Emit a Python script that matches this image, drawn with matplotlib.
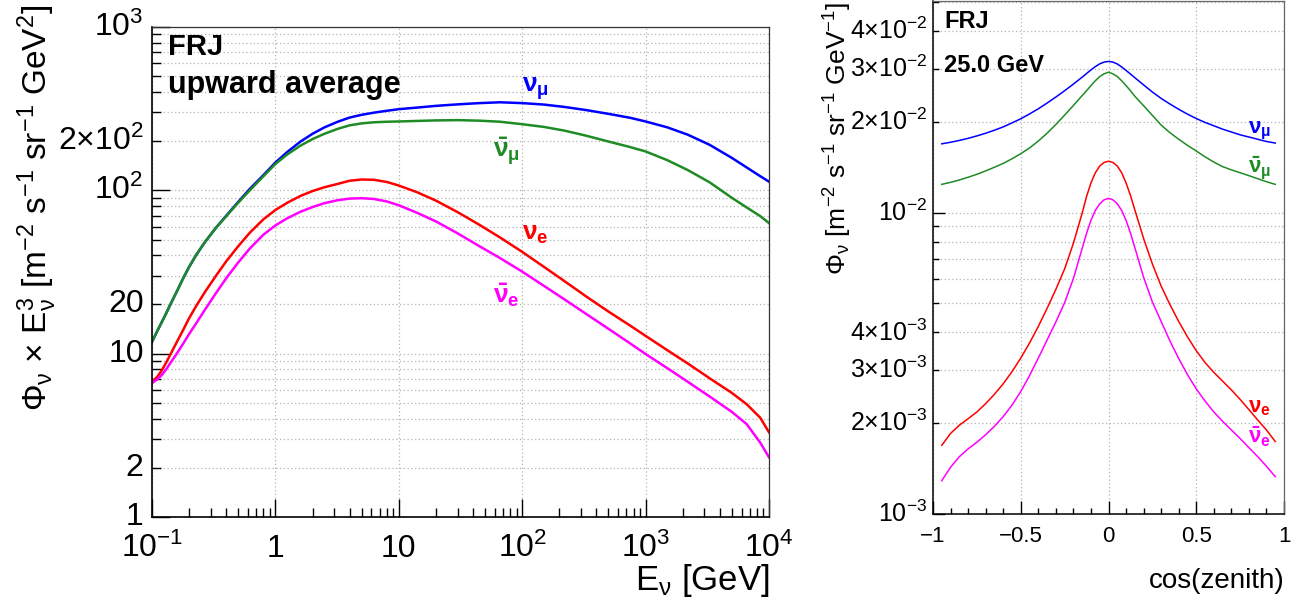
import numpy as np
import matplotlib
matplotlib.use('Agg')
import matplotlib.pyplot as plt

plt.rcParams['font.family'] = ['Liberation Sans', 'DejaVu Sans']
plt.rcParams['mathtext.fontset'] = 'custom'
plt.rcParams['mathtext.rm'] = 'Liberation Sans'
plt.rcParams['mathtext.it'] = 'Liberation Sans'
plt.rcParams['mathtext.bf'] = 'Liberation Sans:bold'

# left panel: upward-averaged flux x E^3 vs energy [GeV]
energy = [0.1, 0.11, 0.12, 0.13, 0.14, 0.16, 0.18, 0.2, 0.23, 0.27, 0.33, 0.4, 0.5, 0.62, 0.8,
          1, 1.25, 1.6, 2, 2.5, 3.2, 4, 5, 6.3, 8, 10, 14, 20, 30, 45, 66, 100, 150, 220, 330,
          500, 750, 1000, 1500, 2200, 3300, 5000, 6600, 8500, 10000]
numu_e = [11.8, 13.7, 15.6, 17.6, 19.8, 24.3, 29.2, 34, 40.6, 48.5, 59, 70, 85, 102, 124,
          148, 172, 199, 222, 243, 263, 279, 290, 299, 307, 314, 321, 329, 336, 342, 346, 342, 335, 324, 310,
          294, 278, 264, 243, 219, 190, 158, 138, 122, 113]
numubar_e = [11.8, 13.7, 15.6, 17.6, 19.8, 24.3, 29.2, 34, 40.6, 48.5, 59, 69.5, 84, 100, 122,
             145, 166, 188, 206, 222, 238, 250, 257, 261, 263, 264, 266, 268, 269, 267, 263, 254, 244.5, 232, 216,
             199, 184, 173, 153, 133, 112, 90, 78.5, 69.5, 63]
nue_e = [6.7, 7.2, 7.9, 8.8, 9.8, 11.9, 14.1, 16.5, 19.8, 24, 30, 36.8, 45.5, 55, 66.5,
         75.8, 84, 92.5, 99, 104.5, 109.5, 114.5, 116.5, 116, 112.5, 107, 97.5, 86.5, 73.5, 61.5, 51.5, 42, 34,
         27.8, 22.4, 18.1, 14.85, 12.85, 10.5, 8.7, 7.07, 5.75, 4.9, 4.05, 3.3]
nuebar_e = [6.6, 6.95, 7.4, 8.0, 8.7, 10.1, 11.6, 13.2, 15.5, 18.7, 23.5, 29, 36.2, 44, 53.5,
            61, 67.5, 74, 79, 83.5, 87, 89, 89.5, 88.5, 85.5, 81, 73, 64.5, 54.5, 45.5, 38.5, 31.8, 26, 21.5,
            17.5, 14.2, 11.55, 9.95, 8.15, 6.72, 5.47, 4.4, 3.7, 2.85, 2.32]

# right panel: flux vs cos(zenith) at 25 GeV
cosz = [-0.95, -0.9, -0.85, -0.8, -0.75, -0.7, -0.65, -0.6, -0.55, -0.5, -0.45, -0.4, -0.35, -0.3,
        -0.25, -0.2, -0.15, -0.125, -0.1, -0.075, -0.05, -0.025, 0, 0.025, 0.05, 0.075, 0.1, 0.125,
        0.15, 0.2, 0.25, 0.3, 0.35, 0.4, 0.45, 0.5, 0.55, 0.6, 0.65, 0.7, 0.75, 0.8, 0.85, 0.9, 0.95]
numu_z = [0.0169, 0.0171, 0.01734, 0.01762, 0.01795, 0.01832, 0.01875, 0.01923, 0.01982, 0.02046, 0.02123,
          0.02208, 0.02307, 0.02415, 0.02535, 0.02667, 0.02812, 0.02891, 0.02972, 0.03048, 0.03112, 0.03155,
          0.0317, 0.03155, 0.0311, 0.0304, 0.0296, 0.0288, 0.0280, 0.0265, 0.0251, 0.0239, 0.0229, 0.0220,
          0.0212, 0.0205, 0.0199, 0.0194, 0.0189, 0.0185, 0.0181, 0.0178, 0.0175, 0.0172, 0.0170]
numubar_z = [0.0124, 0.01259, 0.01282, 0.01309, 0.01339, 0.01374, 0.01413, 0.01455, 0.01507, 0.01567, 0.01637,
             0.01726, 0.01832, 0.01959, 0.02104, 0.02265, 0.02443, 0.02535, 0.02636, 0.02735, 0.02825, 0.02884,
             0.0292, 0.02884, 0.02825, 0.02735, 0.02636, 0.02535, 0.0243, 0.0226, 0.0210, 0.0195, 0.0184, 0.0175,
             0.0167, 0.0160, 0.0153, 0.0147, 0.0142, 0.01385, 0.01355, 0.01325, 0.01295, 0.01265, 0.0124]
nue_z = [1.69e-3, 1.85e-3, 1.97e-3, 2.07e-3, 2.18e-3, 2.323e-3, 2.495e-3, 2.704e-3, 2.965e-3, 3.289e-3, 3.69e-3,
         4.188e-3, 4.808e-3, 5.559e-3, 6.501e-3, 7.907e-3, 9.954e-3, 0.0113, 0.01253, 0.01355, 0.01426, 0.01466,
         0.01479, 0.01466, 0.01426, 0.01355, 0.01253, 0.0114, 0.0102, 8.2e-3, 6.75e-3, 5.7e-3, 4.95e-3, 4.35e-3,
         3.87e-3, 3.48e-3, 3.18e-3, 2.95e-3, 2.76e-3, 2.58e-3, 2.4e-3, 2.22e-3, 2.05e-3, 1.9e-3, 1.74e-3]
nuebar_z = [1.29e-3, 1.429e-3, 1.549e-3, 1.644e-3, 1.73e-3, 1.832e-3, 1.954e-3, 2.104e-3, 2.296e-3, 2.547e-3,
            2.877e-3, 3.289e-3, 3.776e-3, 4.335e-3, 5.023e-3, 6.039e-3, 7.603e-3, 8.531e-3, 9.419e-3, 0.01016,
            0.01069, 0.01102, 0.01114, 0.01102, 0.01069, 0.01016, 9.42e-3, 8.55e-3, 7.65e-3, 6.1e-3, 5.05e-3,
            4.35e-3, 3.75e-3, 3.28e-3, 2.9e-3, 2.6e-3, 2.37e-3, 2.18e-3, 2.03e-3, 1.9e-3, 1.78e-3, 1.66e-3,
            1.55e-3, 1.44e-3, 1.33e-3]

c_numu, c_numubar, c_nue, c_nuebar = '#0000ff', '#1f8b24', '#ff0000', '#ff00ff'
lab_numu = r'$\mathbf{\nu}_{\mathbf{\mu}}$'
lab_numubar = r'$\mathbf{\bar{\nu}}_{\mathbf{\mu}}$'
lab_nue = r'$\mathbf{\nu}_{\mathbf{e}}$'
lab_nuebar = r'$\mathbf{\bar{\nu}}_{\mathbf{e}}$'

W, H = 1305, 604
fig = plt.figure(figsize=(W/100, H/100), dpi=100)
grid_kw = dict(color='#b4b4b4', linestyle=(0, (1, 2)), linewidth=0.9)

# ---------------- left panel ----------------
ax1 = fig.add_axes([152/W, 1-517/H, 617/W, 490/H])
ax1.set_xscale('log')
ax1.set_yscale('log')
ax1.plot(energy, numu_e, color=c_numu, lw=1.8)
ax1.plot(energy, numubar_e, color=c_numubar, lw=1.8)
ax1.plot(energy, nue_e, color=c_nue, lw=1.8)
ax1.plot(energy, nuebar_e, color=c_nuebar, lw=1.8)
ax1.set_xlim(0.1, 1e4)
ax1.set_ylim(1, 1000)

ax1.set_xticks([0.1, 1, 10, 100, 1000, 1e4],
               [r'$10^{-1}$', '1', '10', r'$10^{2}$', r'$10^{3}$', r'$10^{4}$'])
xmin = [m*10.0**d for d in range(-1, 4) for m in range(2, 10)]
ax1.set_xticks(xmin, ['']*len(xmin), minor=True)
ax1.set_yticks([1, 10, 100, 1000], ['1', '10', r'$10^{2}$', r'$10^{3}$'])
ymin = [m*10.0**d for d in range(0, 3) for m in range(2, 10)]
ymin_lab = [('2' if v == 2 else '20' if v == 20 else r'$2{\times}10^{2}$' if v == 200 else '') for v in ymin]
ax1.set_yticks(ymin, ymin_lab, minor=True)
ax1.tick_params(which='both', direction='in', top=False, right=False, width=1.0, labelsize=23)
ax1.tick_params(which='major', length=13)
ax1.tick_params(which='minor', length=6.5)
ax1.tick_params(axis='x', which='both', pad=29)
ax1.tick_params(axis='y', which='both', pad=6)
for lab in ax1.get_xticklabels():
    lab.set_va('baseline')
for lab in ax1.get_yticklabels() + ax1.get_yticklabels(minor=True):
    lab.set_va('center')
ax1.grid(which='major', axis='x', **grid_kw)
ax1.grid(which='both', axis='y', **grid_kw)
for s in ['left', 'bottom']:
    ax1.spines[s].set_linewidth(1.2)
for s in ['top', 'right']:
    ax1.spines[s].set_linestyle((0, (2, 1)))
    ax1.spines[s].set_color('#333333')
    ax1.spines[s].set_linewidth(0.9)

ax1.text(100, 400, lab_numu, color=c_numu, fontsize=19, ha='left', va='baseline')
ax1.text(58, 158, lab_numubar, color=c_numubar, fontsize=19, ha='left', va='baseline')
ax1.text(100, 50, lab_nue, color=c_nue, fontsize=19, ha='left', va='baseline')
ax1.text(58, 20.4, lab_nuebar, color=c_nuebar, fontsize=19, ha='left', va='baseline')

fig.text(168/W, 1-55/H, 'FRJ', fontsize=21, weight='bold', va='baseline')
fig.text(168/W, 1-93/H, 'upward average', fontsize=22, weight='bold', va='baseline')
fig.text(770/W, 1-590/H, r'E$_{\nu}$ [GeV]', fontsize=25, ha='right', va='baseline')
fig.text(37/W, 1-5/H, r'$\Phi_{\nu}$ $\times$ E$_{\nu}^{3}$ [m$^{-2}$ s$^{-1}$ sr$^{-1}$ GeV$^{2}$]',
         fontsize=24, rotation=90, ha='center', va='top')

# ---------------- right panel ----------------
ax2 = fig.add_axes([933/W, 1-514/H, 351/W, 513/H])
ax2.set_yscale('log')
ax2.plot(cosz, numu_z, color=c_numu, lw=1.1)
ax2.plot(cosz, numubar_z, color=c_numubar, lw=1.1)
ax2.plot(cosz, nue_z, color=c_nue, lw=1.1)
ax2.plot(cosz, nuebar_z, color=c_nuebar, lw=1.1)
ax2.set_xlim(-1, 1)
ax2.set_ylim(1e-3, 5.03e-2)

ax2.set_xticks([-1, -0.5, 0, 0.5, 1], ['\u22121', '\u22120.5', '0', '0.5', '1'])
xmin2 = [round(-1 + 0.1*i, 1) for i in range(21) if i % 5 != 0]
ax2.set_xticks(xmin2, ['']*len(xmin2), minor=True)
ax2.set_yticks([1e-3, 1e-2], [r'$10^{-3}$', r'$10^{-2}$'])
ymin2 = [m*1e-3 for m in range(2, 10)] + [m*1e-2 for m in range(2, 6)]
lab2 = {2e-3: 2, 3e-3: 3, 4e-3: 4, 2e-2: 2, 3e-2: 3, 4e-2: 4}
ymin2_lab = []
for v in ymin2:
    hit = [k for k in lab2 if abs(k - v) < 1e-9]
    if hit:
        e = -3 if v < 1e-2 else -2
        ymin2_lab.append(r'$%d{\times}10^{%d}$' % (lab2[hit[0]], e))
    else:
        ymin2_lab.append('')
ax2.set_yticks(ymin2, ymin2_lab, minor=True)
ax2.tick_params(which='both', direction='in', top=False, right=False, width=1.0)
ax2.tick_params(axis='y', which='both', labelsize=18)
ax2.tick_params(axis='x', which='both', labelsize=16)
ax2.tick_params(axis='y', which='major', length=8.5, pad=4)
ax2.tick_params(axis='y', which='minor', length=4.5, pad=4)
ax2.tick_params(axis='x', which='major', length=9.5, pad=9)
ax2.tick_params(axis='x', which='minor', length=4.5)
for lab in ax2.get_yticklabels() + ax2.get_yticklabels(minor=True):
    lab.set_va('center')
ax2.grid(which='major', axis='x', **grid_kw)
ax2.grid(which='both', axis='y', **grid_kw)
for s in ['left', 'bottom']:
    ax2.spines[s].set_linewidth(1.1)
for s in ['top', 'right']:
    ax2.spines[s].set_color('#666666')
    ax2.spines[s].set_linewidth(0.9)

ax2.text(0.795, 0.01828, lab_numu, color=c_numu, fontsize=16, ha='left', va='baseline')
ax2.text(0.795, 0.01355, lab_numubar, color=c_numubar, fontsize=16, ha='left', va='baseline')
ax2.text(0.795, 2.18e-3, lab_nue, color=c_nue, fontsize=16, ha='left', va='baseline')
ax2.text(0.795, 1.72e-3, lab_nuebar, color=c_nuebar, fontsize=16, ha='left', va='baseline')

fig.text(944/W, 1-28/H, 'FRJ', fontsize=17, weight='bold', va='baseline')
fig.text(944/W, 1-72/H, '25.0 GeV', fontsize=17, weight='bold', va='baseline')
fig.text(1285/W, 1-588/H, 'cos(zenith)', fontsize=20, ha='right', va='baseline')
fig.text(838/W, 1-2/H, r'$\Phi_{\nu}$ [m$^{-2}$ s$^{-1}$ sr$^{-1}$ GeV$^{-1}$]',
         fontsize=19, rotation=90, ha='center', va='top')

fig.savefig('out.png', dpi=100)
